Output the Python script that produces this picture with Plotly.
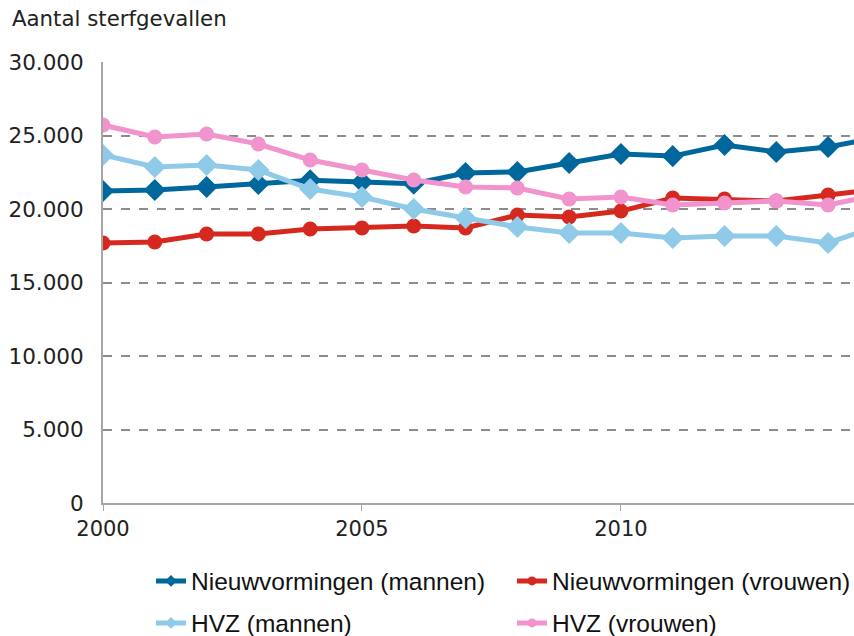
import plotly.graph_objects as go

years = list(range(2000, 2016))
nieuw_mannen = [21220, 21290, 21500, 21700, 21950, 21840, 21720, 22450, 22520, 23130, 23740, 23600, 24350, 23880, 24220, 24900]
nieuw_vrouwen = [17690, 17760, 18300, 18300, 18640, 18710, 18840, 18710, 19590, 19460, 19860, 20750, 20680, 20540, 20950, 21350]
hvz_mannen = [23670, 22860, 22990, 22650, 21360, 20820, 20000, 19390, 18780, 18370, 18370, 18030, 18160, 18160, 17690, 18900]
hvz_vrouwen = [25710, 24900, 25100, 24420, 23330, 22650, 21970, 21500, 21430, 20680, 20820, 20270, 20410, 20540, 20270, 21000]

series = [
    ("Nieuwvormingen (mannen)", nieuw_mannen, "#00679c", "diamond", 17),
    ("Nieuwvormingen (vrouwen)", nieuw_vrouwen, "#d5291f", "circle", 15),
    ("HVZ (mannen)", hvz_mannen, "#8fcae8", "diamond", 17),
    ("HVZ (vrouwen)", hvz_vrouwen, "#f193cd", "circle", 15),
]

# plot area in pixels: left 103, right 854, top 62, bottom 503
PL, PR, PT, PB = 103, 854, 62, 503
def px_x(x):
    return (x - PL) / (PR - PL)
def px_y(y):
    return (PB - y) / (PB - PT)

legend_pos = [(151, 581), (512, 581), (151, 623), (512, 623)]
legend_ids = ["legend", "legend2", "legend3", "legend4"]

fig = go.Figure()
for i, (name, vals, color, sym, size) in enumerate(series):
    fig.add_trace(go.Scatter(
        x=years, y=vals, name=name, mode="lines+markers",
        line=dict(color=color, width=5),
        marker=dict(symbol=sym, size=size, color=color),
        showlegend=False,
    ))
for i, (name, vals, color, sym, size) in enumerate(series):
    fig.add_trace(go.Scatter(
        x=[None], y=[None], name=name, mode="lines+markers",
        line=dict(color=color, width=5),
        marker=dict(symbol=sym, size=9, color=color),
        showlegend=True, legend=legend_ids[i],
    ))

legend_font = dict(family="Liberation Sans", size=24.5, color="#111111")
layout_legends = {}
for lid, (lx, ly) in zip(legend_ids, legend_pos):
    layout_legends[lid] = dict(
        x=px_x(lx), xanchor="left", y=px_y(ly), yanchor="middle",
        font=legend_font, bgcolor="rgba(0,0,0,0)", borderwidth=0,
        orientation="h", itemsizing="trace",
    )

fig.update_layout(
    width=854, height=636,
    margin=dict(l=PL, r=854 - PR, t=PT, b=636 - PB, autoexpand=False),
    plot_bgcolor="white", paper_bgcolor="white",
    separators=",.",
    font=dict(family="DejaVu Sans", size=21, color="#222222"),
    **layout_legends,
)
fig.add_annotation(
    text="Aantal sterfgevallen", xref="paper", yref="paper",
    x=px_x(10), y=px_y(18), xanchor="left", yanchor="middle",
    showarrow=False, font=dict(family="DejaVu Sans", size=21.3, color="#222222"),
)

fig.update_xaxes(
    range=[2000, 2014.5], tickvals=[2000, 2005, 2010],
    showgrid=False, showline=True, linecolor="#a6a6a6", linewidth=2,
    ticks="outside", ticklen=6, tickcolor="#a6a6a6", tickwidth=1,
    zeroline=False, tickfont=dict(family="DejaVu Sans", size=21, color="#222222"),
)
fig.update_yaxes(
    range=[0, 30000], tickvals=[0, 5000, 10000, 15000, 20000, 25000, 30000],
    tickformat=",d",
    showgrid=True, gridcolor="#8c8c8c", griddash="dash", gridwidth=1.5,
    showline=True, linecolor="#a6a6a6", linewidth=2, zeroline=False,
    ticks="", ticklabelstandoff=13,
    tickfont=dict(family="DejaVu Sans", size=21.5, color="#222222"),
)

fig.write_html(
    "out.html",
    config={"displayModeBar": False},
    post_script="document.body.style.margin='0';document.body.style.overflow='hidden';",
)
